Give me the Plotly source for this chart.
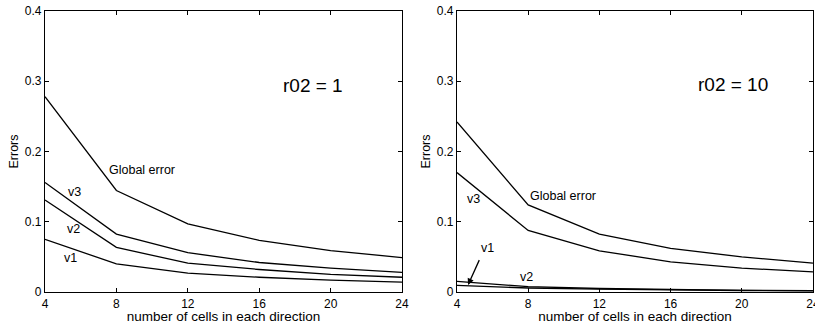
import plotly.graph_objects as go

cells = [4, 8, 12, 16, 20, 24]

# r02 = 1
g1 = [0.278, 0.1445, 0.097, 0.0735, 0.059, 0.049]
v3_1 = [0.156, 0.0825, 0.056, 0.042, 0.034, 0.028]
v2_1 = [0.131, 0.0635, 0.041, 0.032, 0.025, 0.021]
v1_1 = [0.075, 0.040, 0.027, 0.021, 0.017, 0.014]

# r02 = 10
g10 = [0.242, 0.124, 0.0824, 0.062, 0.050, 0.041]
v3_10 = [0.170, 0.0876, 0.0586, 0.043, 0.034, 0.0286]
v1_10 = [0.015, 0.0076, 0.005, 0.0033, 0.0024, 0.0019]
v2_10 = [0.0095, 0.0057, 0.004, 0.0028, 0.0021, 0.0016]

yticks = [0, 0.1, 0.2, 0.3, 0.4]
ytick_labels = ["0", "0.1", "0.2", "0.3", "0.4"]
xticks = cells

FONT = "Liberation Sans, Arial, Helvetica, sans-serif"
line = dict(color="black", width=1.3)

fig = go.Figure()
for ys in [g1, v3_1, v2_1, v1_1]:
    fig.add_trace(go.Scatter(x=cells, y=ys, mode="lines", line=line,
                             xaxis="x", yaxis="y", showlegend=False, hoverinfo="skip"))
for ys in [g10, v3_10, v1_10, v2_10]:
    fig.add_trace(go.Scatter(x=cells, y=ys, mode="lines", line=line,
                             xaxis="x2", yaxis="y2", showlegend=False, hoverinfo="skip"))

ax_common = dict(showline=True, linecolor="black", linewidth=1.3, mirror="ticks",
                 ticks="inside", ticklen=4, tickcolor="black", showgrid=False,
                 zeroline=False, automargin=False,
                 tickfont=dict(family=FONT, size=12, color="black"))

ydom = [0.0988, 0.966]
fig.update_layout(
    width=815, height=324,
    margin=dict(l=0, r=0, t=0, b=0),
    paper_bgcolor="white", plot_bgcolor="white",
    font=dict(family=FONT, color="black"),
    xaxis=dict(domain=[0.0552, 0.4933], range=[4, 24], tickvals=xticks,
               title=dict(text="number of cells in each direction",
                          font=dict(size=13.5), standoff=0), anchor="y",
               ticklabelstandoff=0, **ax_common),
    yaxis=dict(domain=ydom, range=[0, 0.4], tickvals=yticks, ticktext=ytick_labels,
               title=dict(text="Errors", font=dict(size=12.5), standoff=3),
               anchor="x", **ax_common),
    xaxis2=dict(domain=[0.5607, 0.9975], range=[4, 24], tickvals=xticks,
                title=dict(text="number of cells in each direction",
                           font=dict(size=13.5), standoff=0), anchor="y2",
                ticklabelstandoff=0, ticklabeloverflow="allow", **ax_common),
    yaxis2=dict(domain=ydom, range=[0, 0.4], tickvals=yticks, ticktext=ytick_labels,
                title=dict(text="Errors", font=dict(size=12.5), standoff=3),
                anchor="x2", **ax_common),
)

def ann(text, x, y, xref, yref, size=12.5, xanchor="left"):
    fig.add_annotation(text=text, x=x, y=y, xref=xref, yref=yref, showarrow=False,
                       font=dict(family=FONT, size=size, color="black"),
                       xanchor=xanchor, yanchor="middle")

ann("r02 = 1", 19.0, 0.294, "x", "y", size=19, xanchor="center")
ann("Global error", 7.45, 0.174, "x", "y")
ann("v3", 5.2, 0.142, "x", "y")
ann("v2", 5.1, 0.09, "x", "y")
ann("v1", 4.95, 0.0484, "x", "y")

ann("r02 = 10", 19.5, 0.295, "x2", "y2", size=19, xanchor="center")
ann("Global error", 8.0, 0.137, "x2", "y2")
ann("v3", 4.45, 0.132, "x2", "y2")
ann("v1", 5.25, 0.0626, "x2", "y2")
ann("v2", 7.45, 0.0214, "x2", "y2")

fig.add_annotation(x=4.62, y=0.010, xref="x2", yref="y2", ax=5.29, ay=0.0475,
                   axref="x2", ayref="y2", text="", showarrow=True, arrowhead=2,
                   arrowsize=1, arrowwidth=1.3, arrowcolor="black")

fig.write_html("out.html", config={"displayModeBar": False},
               post_script="document.body.style.margin='0';document.body.style.overflow='hidden';")
